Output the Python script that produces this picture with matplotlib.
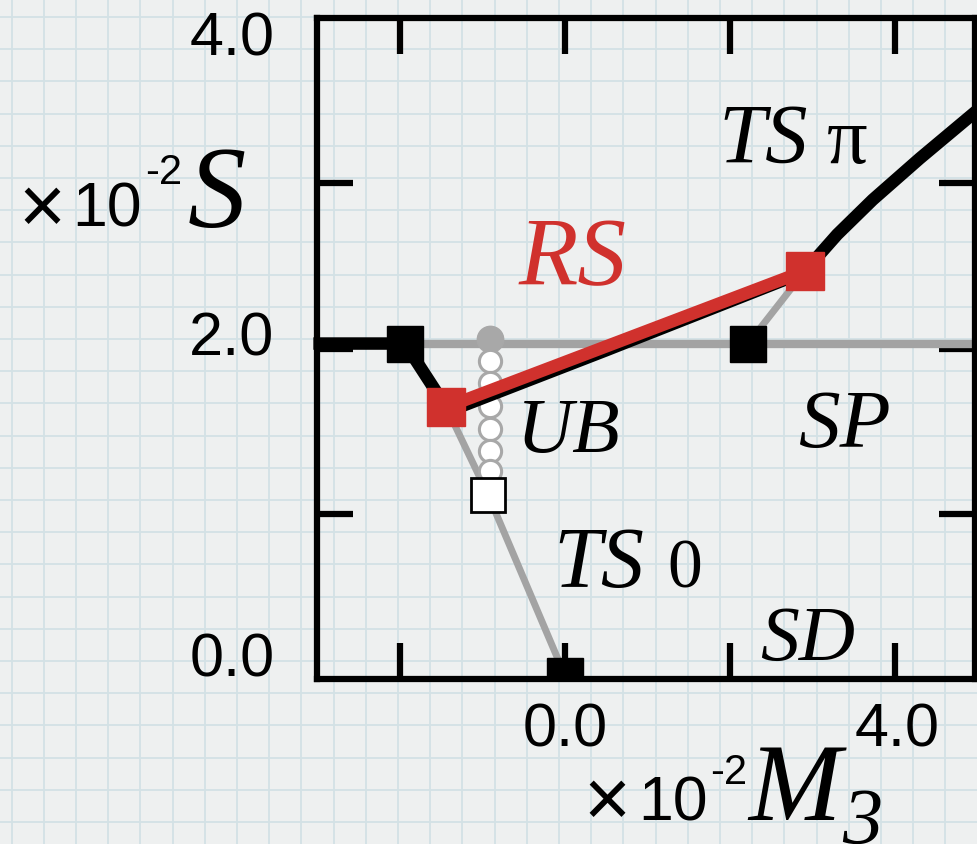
import numpy as np
import matplotlib.pyplot as plt

SERIF = 'Liberation Serif'
SANS = 'Liberation Sans'
RED = '#d0312d'
GRAY = '#a3a3a3'

# phase boundaries in the (M3, S) plane, both in units of 1e-2
ts0_x = [-3.05, -1.94, -1.44]
ts0_y = [2.03, 2.03, 1.645]
sp_x = [-1.94, 4.97]
sp_y = [2.03, 2.03]
rs_x = [-1.44, 2.91]
rs_y = [1.645, 2.47]
rs_edge_x = [-1.44, 0.5, 2.91]
rs_edge_y = [1.61, 1.985, 2.46]
tspi_x = [2.91, 3.3, 3.73, 4.3, 4.97]
tspi_y = [2.47, 2.69, 2.90, 3.15, 3.43]
side_x = [2.22, 2.91]
side_y = [2.03, 2.47]
sd_x = [-1.44, -0.93, 0.0]
sd_y = [1.645, 1.113, 0.02]

# unbound points along M3 = -0.91
ub_x = -0.91
ub_y = [1.924, 1.79, 1.652, 1.512, 1.379, 1.258]
ub_top = (-0.91, 2.057)

black_sq_x = [-1.94, 2.22, 0.0]
black_sq_y = [2.03, 2.03, 0.02]
red_sq_x = [-1.44, 2.91]
red_sq_y = [1.645, 2.47]
open_sq = (-0.93, 1.113)

xtick_vals = [-2, 0, 2, 4]
ytick_vals = [1, 2, 3]
xlabels = ['0.0', '4.0']
xlabel_pos = [(0.0, -0.31), (4.02, -0.31)]
ylabels = ['0.0', '2.0', '4.0']
ylabel_pos = [0.115, 2.06, 3.87]

fig = plt.figure(figsize=(9.78, 8.45), dpi=100)
fig.patch.set_facecolor('#eef0f0')

# graph-paper backdrop in pixel units
bg = fig.add_axes([0, 0, 1, 1], zorder=0)
bg.set_xlim(0, 978)
bg.set_ylim(845, 0)
bg.set_xticks(np.arange(11.5, 978, 32.2))
bg.set_yticks(np.arange(18, 845, 32.2))
bg.grid(color='#d3e1e5', lw=1.3)
bg.tick_params(length=0, labelleft=False, labelbottom=False)
bg.set_facecolor('#eef0f0')
for s in bg.spines.values():
    s.set_visible(False)

ax = fig.add_axes([317.5 / 978, 165 / 845, 657.5 / 978, 661 / 845], zorder=1)
ax.patch.set_alpha(0)
ax.set_xlim(-3.0, 4.97)
ax.set_ylim(0, 4.0)

ax.plot(sp_x, sp_y, color=GRAY, lw=6, solid_capstyle='butt', zorder=2)
ax.plot(side_x, side_y, color=GRAY, lw=5, zorder=2)
ax.plot(sd_x, sd_y, color=GRAY, lw=5, zorder=2)
ax.plot(ts0_x, ts0_y, color='black', lw=9, solid_capstyle='butt',
        clip_on=False, zorder=3)
ax.plot(tspi_x, tspi_y, color='black', lw=9, solid_joinstyle='round', zorder=3)

ax.plot([ub_top[0]], [ub_top[1]], 'o', ms=19, color='#a8a8a8', zorder=4)
ax.plot([ub_x] * len(ub_y), ub_y, 'o', ms=16, mfc='white', mec='#a8a8a8',
        mew=2.2, ls='none', zorder=4)

ax.plot(rs_edge_x, rs_edge_y, color='black', lw=8, zorder=5)
ax.plot(rs_x, rs_y, color=RED, lw=9, solid_capstyle='butt', zorder=6)

ax.plot(black_sq_x, black_sq_y, 's', ms=26, color='black', ls='none', zorder=7)
ax.plot([open_sq[0]], [open_sq[1]], 's', ms=25, mfc='white', mec='black',
        mew=2, zorder=7)
ax.plot(red_sq_x, red_sq_y, 's', ms=27, color=RED, ls='none', zorder=8)

for s in ax.spines.values():
    s.set_linewidth(4.5)
    s.set_zorder(9)
ax.set_xticks(xtick_vals)
ax.set_yticks(ytick_vals)
ax.tick_params(direction='in', length=26, width=4.5, top=True, right=True,
               labelbottom=False, labelleft=False)

# region names
def region(x, y, s, size, color='black', style='italic'):
    ax.text(x, y, s, fontsize=size, color=color, family=SERIF, style=style,
            ha='left', va='baseline', zorder=10)

region(1.86, 3.13, 'TS', 61)
region(3.17, 3.13, '\u03c0', 58, style='normal')
region(-0.56, 2.39, 'RS', 70, color=RED)
region(-0.58, 1.38, 'UB', 56)
region(2.83, 1.41, 'SP', 60)
region(-0.14, 0.56, 'TS', 62)
region(1.24, 0.56, '0', 50, style='normal')
region(2.37, 0.12, 'SD', 56)

# tick labels
for s, (x, y) in zip(xlabels, xlabel_pos):
    ax.text(x, y, s, fontsize=44, family=SANS, ha='center', va='center',
            clip_on=False)
for s, y in zip(ylabels, ylabel_pos):
    ax.text(-3.52, y, s, fontsize=44, family=SANS, ha='right', va='center',
            clip_on=False)

# axis titles, placed in pixels
def px(x, y, s, size, family, style='normal'):
    fig.text(x / 978, 1 - y / 845, s, fontsize=size, family=family,
             style=style, ha='left', va='baseline', zorder=10)

px(18, 233, '\u00d7', 58, SANS)
px(72, 227, '10', 45, SANS)
px(145, 184, '-2', 30, SANS)
px(188, 227, 'S', 84, SERIF, 'italic')

px(583, 826, '\u00d7', 58, SANS)
px(638, 821, '10', 45, SANS)
px(710, 784, '-2', 30, SANS)
px(748, 820, 'M', 80, SERIF, 'italic')
px(842, 844, '3', 58, SERIF, 'italic')

fig.savefig('out.png', dpi=100, facecolor=fig.get_facecolor())
